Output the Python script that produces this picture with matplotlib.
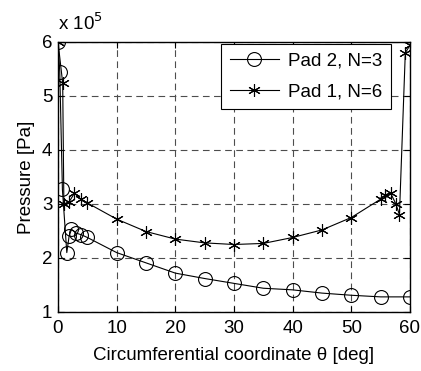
import matplotlib
matplotlib.use('Agg')
from matplotlib import pyplot as plt

plt.rcParams['font.family'] = ['Liberation Sans', 'DejaVu Sans']

# pressure in units of 1e5 Pa
pad2_x = [0, 0.3, 0.75, 1.5, 1.9, 2.3, 3.1, 4.0, 5.0, 10, 15, 20, 25, 30, 35, 40, 45, 50, 55, 60]
pad2_y = [6.0, 5.45, 3.27, 2.10, 2.41, 2.53, 2.46, 2.43, 2.38, 2.10, 1.91, 1.72, 1.62, 1.53,
          1.44, 1.41, 1.35, 1.31, 1.28, 1.28]

pad1_x = [0, 0.8, 1.0, 1.9, 2.8, 3.9, 5.0, 10, 15, 20, 25, 30, 35, 40, 45, 50, 55,
          55.8, 56.7, 57.6, 58.2, 59.2, 60]
pad1_y = [6.0, 5.24, 3.0, 3.04, 3.20, 3.09, 3.02, 2.72, 2.49, 2.35, 2.28, 2.25, 2.27, 2.38,
          2.52, 2.75, 3.09, 3.17, 3.20, 3.0, 2.80, 5.80, 5.94]

x_ticks = [0, 10, 20, 30, 40, 50, 60]
y_ticks = [1, 2, 3, 4, 5, 6]

fs = 13.5

fig = plt.figure(figsize=(4.21, 3.71), dpi=100)
ax = fig.add_axes([58 / 421, 59 / 371, 352 / 421, 270 / 371])

ax.plot(pad2_x, pad2_y, color='black', lw=0.8, marker='o', ms=10, mfc='none', mew=0.8,
        label='Pad 2, N=3')
ax.plot(pad1_x, pad1_y, color='black', lw=0.8, marker=(6, 2, 0), ms=9, mew=0.8,
        label='Pad 1, N=6')

ax.set_xlim(0, 60)
ax.set_ylim(1, 6)
ax.set_xticks(x_ticks)
ax.set_yticks(y_ticks)
ax.tick_params(direction='in', labelsize=fs, length=4, top=True, right=True)
ax.tick_params(axis='x', pad=6)
ax.tick_params(axis='y', pad=4)
ax.grid(True, color='0.3', linestyle=(0, (6, 4)), linewidth=0.8)
for s in ax.spines.values():
    s.set_linewidth(1.0)

ax.set_xlabel(r'Circumferential coordinate θ [deg]', fontsize=fs, labelpad=7)
ax.set_ylabel('Pressure [Pa]', fontsize=fs, labelpad=5)
ax.text(0.0, 1.03, r'x 10$^5$', transform=ax.transAxes, fontsize=fs,
        ha='left', va='bottom')

leg = ax.legend(loc='upper right', bbox_to_anchor=(0.945, 0.993), borderaxespad=0,
                fontsize=fs, fancybox=False, edgecolor='black', framealpha=1,
                handlelength=2.6, borderpad=0.45, labelspacing=0.75, handletextpad=0.5)
leg.get_frame().set_linewidth(0.8)

fig.savefig('out.png', dpi=100)
